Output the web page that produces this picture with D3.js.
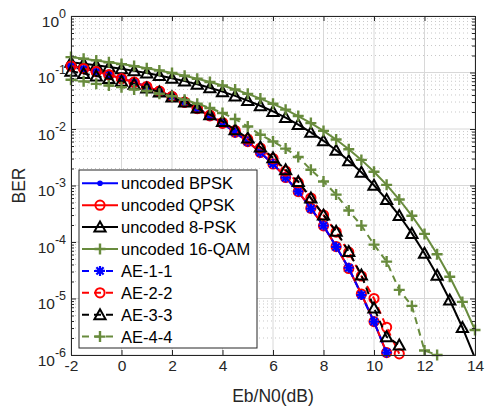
<!DOCTYPE html>
<html>
<head>
<meta charset="utf-8">
<script src="https://cdn.jsdelivr.net/npm/d3@7"></script>
<style>
  body { margin: 0; background: #fff; }
  svg { font-family: "Liberation Sans", Arial, sans-serif; }
</style>
</head>
<body>
<div id="chart"></div>
<script>
// Eb/N0 points (dB), shared by every curve
var snr = [-2, -1.5, -1, -0.5, 0, 0.5, 1, 1.5, 2, 2.5, 3, 3.5, 4, 4.5, 5, 5.5, 6, 6.5, 7, 7.5,
           8, 8.5, 9, 9.5, 10, 10.5, 11, 11.5, 12, 12.5, 13, 13.5, 14];

// BER, one value per snr point (curves stop where they run out)
var bpsk = [0.1306, 0.1170, 0.1038, 0.0909, 0.0786, 0.0671, 0.0563, 0.0464, 0.0375, 0.0297,
            0.0229, 0.0172, 0.0125, 0.00879, 0.00595, 0.00386, 0.00239, 0.00140, 7.73e-4, 3.99e-4,
            1.91e-4, 8.40e-5, 3.36e-5, 1.21e-5, 3.87e-6, 1.08e-6];
var qpsk = [0.1304, 0.1172, 0.1036, 0.0911, 0.0785, 0.0672, 0.0561, 0.0465, 0.0376, 0.0296,
            0.0230, 0.0171, 0.0126, 0.00875, 0.00598, 0.00384, 0.00241, 0.00139, 7.8e-4, 3.95e-4,
            1.93e-4, 8.3e-5, 3.4e-5, 1.2e-5, 3.9e-6, 1.1e-6];
var psk8 = [0.1522, 0.1434, 0.1345, 0.1254, 0.1162, 0.1069, 0.0977, 0.0884, 0.0793, 0.0704,
            0.0618, 0.0536, 0.0458, 0.0385, 0.0318, 0.0258, 0.0205, 0.0159, 0.01196, 0.00874,
            0.00618, 0.00421, 0.00275, 0.00171, 0.00101, 5.63e-4, 2.94e-4, 1.42e-4, 6.34e-5, 2.57e-5,
            9.4e-6, 3.07e-6, 8.8e-7];
var qam16 = [0.1873, 0.1754, 0.1637, 0.1522, 0.1409, 0.1299, 0.1190, 0.1083, 0.0978, 0.0875,
             0.0774, 0.0678, 0.0587, 0.0500, 0.0419, 0.0345, 0.0279, 0.0220, 0.01697, 0.01272,
             0.00925, 0.00650, 0.00439, 0.00284, 0.00175, 0.001026, 5.65e-4, 2.91e-4, 1.39e-4, 6.08e-5,
             2.42e-5, 8.7e-6, 2.77e-6];
var ae11 = [0.1310, 0.1165, 0.1040, 0.0905, 0.0790, 0.0668, 0.0565, 0.0460, 0.0378, 0.0295,
            0.0231, 0.0170, 0.0127, 0.0087, 0.0060, 0.0038, 0.00242, 0.00138, 7.9e-4, 3.9e-4,
            1.95e-4, 8.2e-5, 3.5e-5, 1.15e-5, 3.9e-6, 1.1e-6];
var ae22 = [0.1302, 0.1175, 0.1035, 0.0912, 0.0783, 0.0675, 0.0560, 0.0468, 0.0374, 0.0300,
            0.0233, 0.0176, 0.0130, 0.0094, 0.0066, 0.0046, 0.0030, 0.0018, 0.00112, 6.0e-4,
            3.0e-4, 1.5e-4, 6.6e-5, 2.5e-5, 1.0e-5, 3.1e-6, 1.05e-6];
var ae33 = [0.105, 0.096, 0.087, 0.078, 0.070, 0.062, 0.053, 0.045, 0.037, 0.030,
            0.0235, 0.0179, 0.0136, 0.0097, 0.0069, 0.0048, 0.0031, 0.0019, 0.00118, 6.0e-4,
            3.0e-4, 1.55e-4, 6.8e-5, 2.6e-5, 6.8e-6, 2.1e-6, 1.5e-6];
var ae44 = [0.0746, 0.0697, 0.063, 0.059, 0.055, 0.050, 0.047, 0.042, 0.038, 0.033,
            0.028, 0.0235, 0.0192, 0.0150, 0.0111, 0.0079, 0.0060, 0.0045, 0.0032, 0.0019,
            0.00118, 6.9e-4, 3.6e-4, 1.95e-4, 9.0e-5, 4.5e-5, 1.42e-5, 7.4e-6, 1.2e-6, 1.0e-6];

var legendNames = ["uncoded BPSK", "uncoded QPSK", "uncoded 8-PSK", "uncoded 16-QAM",
                   "AE-1-1", "AE-2-2", "AE-3-3", "AE-4-4"];

var xTickValues = [-2, 0, 2, 4, 6, 8, 10, 12, 14];
var yTickExps = [0, -1, -2, -3, -4, -5, -6];

var green = "#688b3d";
var series = [
  {name: legendNames[0], values: bpsk,  color: "blue",    dash: null,  marker: "dot"},
  {name: legendNames[1], values: qpsk,  color: "red",     dash: null,  marker: "circle"},
  {name: legendNames[2], values: psk8,  color: "black",   dash: null,  marker: "tri"},
  {name: legendNames[3], values: qam16, color: green,     dash: null,  marker: "plus"},
  {name: legendNames[4], values: ae11,  color: "blue",    dash: "7,5", marker: "star"},
  {name: legendNames[5], values: ae22,  color: "red",     dash: "7,5", marker: "circle"},
  {name: legendNames[6], values: ae33,  color: "black",   dash: "7,5", marker: "tri"},
  {name: legendNames[7], values: ae44,  color: green,     dash: "7,5", marker: "plus"}
];

var margin = {top: 16, right: 10, bottom: 52, left: 71},
    width = 485 - margin.left - margin.right,
    height = 407 - margin.top - margin.bottom;

var axisColor = "#262626";

var svg = d3.select("#chart").append("svg")
    .attr("width", 485)
    .attr("height", 407)
  .append("g")
    .attr("transform", "translate(" + margin.left + "," + margin.top + ")");

var x = d3.scaleLinear().domain([-2, 14]).range([0, width]);
var y = d3.scaleLog().domain([1e-6, 1]).range([height, 0]);

svg.append("defs").append("clipPath").attr("id", "clip")
  .append("rect").attr("width", width).attr("height", height);

// grid: minor (dotted) then major
var minorY = [];
for (var e = -6; e < 0; e++) {
  for (var m = 2; m <= 9; m++) minorY.push(m * Math.pow(10, e));
}
var grid = svg.append("g");
grid.selectAll(".minor").data(minorY).enter().append("line")
    .attr("x1", 0).attr("x2", width)
    .attr("y1", d => y(d)).attr("y2", d => y(d))
    .attr("stroke", "#c8c8c8").attr("stroke-width", 1)
    .attr("stroke-dasharray", "1,3");
grid.selectAll(".majy").data(yTickExps).enter().append("line")
    .attr("x1", 0).attr("x2", width)
    .attr("y1", d => y(Math.pow(10, d))).attr("y2", d => y(Math.pow(10, d)))
    .attr("stroke", "#d8d8d8").attr("stroke-width", 1);
grid.selectAll(".majx").data(xTickValues).enter().append("line")
    .attr("y1", 0).attr("y2", height)
    .attr("x1", d => x(d)).attr("x2", d => x(d))
    .attr("stroke", "#d8d8d8").attr("stroke-width", 1);

// marker shapes
function drawMarker(g, type, color) {
  if (type === "dot") {
    g.append("circle").attr("r", 2.8).attr("fill", color);
  } else if (type === "circle") {
    g.append("circle").attr("r", 4.6).attr("fill", "none")
      .attr("stroke", color).attr("stroke-width", 2);
  } else if (type === "tri") {
    g.append("path").attr("d", "M0,-5.5L5.6,4.5L-5.6,4.5Z").attr("fill", "none")
      .attr("stroke", color).attr("stroke-width", 2).attr("stroke-linejoin", "miter");
  } else if (type === "plus") {
    g.append("path").attr("d", "M-5.5,0H5.5M0,-5.5V5.5")
      .attr("stroke", color).attr("stroke-width", 2.4);
  } else if (type === "star") {
    g.append("path").attr("d", "M-5,0H5M0,-5V5M-3.6,-3.6L3.6,3.6M-3.6,3.6L3.6,-3.6")
      .attr("stroke", color).attr("stroke-width", 2.2);
  }
}

var line = d3.line()
    .x(d => x(d.snr))
    .y(d => y(d.ber));

var plot = svg.append("g");
series.forEach(function (s) {
  var pts = s.values.map((v, i) => ({snr: snr[i], ber: v}));
  plot.append("path")
      .datum(pts)
      .attr("clip-path", "url(#clip)")
      .attr("fill", "none")
      .attr("stroke", s.color)
      .attr("stroke-width", 2)
      .attr("stroke-dasharray", s.dash)
      .attr("d", line);
  pts.filter(d => d.ber >= 0.98e-6).forEach(function (d) {
    var g = plot.append("g").attr("transform", "translate(" + x(d.snr) + "," + y(d.ber) + ")");
    drawMarker(g, s.marker, s.color);
  });
});

// axes (ticks inward, box on)
svg.append("g")
    .attr("transform", "translate(0," + height + ")")
    .call(d3.axisBottom(x).tickValues(xTickValues).tickSize(-5).tickPadding(5).tickFormat(d => String(d)))
    .call(g => g.selectAll("text").style("font-size", "15.5px").attr("fill", axisColor))
    .call(g => g.selectAll("line,path").attr("stroke", axisColor));
svg.append("g")
    .call(d3.axisTop(x).tickValues(xTickValues).tickSize(-5).tickFormat(""))
    .call(g => g.selectAll("line,path").attr("stroke", axisColor));

var yMajor = yTickExps.map(d => Math.pow(10, d));
svg.append("g")
    .call(d3.axisLeft(y).tickValues(yMajor).tickSize(-5).tickFormat(""))
    .call(g => g.selectAll("line,path").attr("stroke", axisColor));
svg.append("g")
    .call(d3.axisLeft(y).tickValues(minorY).tickSize(-3).tickFormat(""))
    .call(g => g.select(".domain").remove())
    .call(g => g.selectAll("line").attr("stroke", axisColor));
svg.append("g")
    .attr("transform", "translate(" + width + ",0)")
    .call(d3.axisRight(y).tickValues(yMajor).tickSize(-5).tickFormat(""))
    .call(g => g.selectAll("line,path").attr("stroke", axisColor));
svg.append("g")
    .attr("transform", "translate(" + width + ",0)")
    .call(d3.axisRight(y).tickValues(minorY).tickSize(-3).tickFormat(""))
    .call(g => g.select(".domain").remove())
    .call(g => g.selectAll("line").attr("stroke", axisColor));

// y tick labels 10^k
var ylab = svg.append("g").selectAll("text").data(yTickExps).enter().append("text")
    .attr("x", -5)
    .attr("y", d => y(Math.pow(10, d)) + 10.5)
    .attr("text-anchor", "end")
    .attr("fill", axisColor)
    .style("font-size", "15.5px");
ylab.append("tspan").text("10");
ylab.append("tspan").attr("dy", -9).style("font-size", "12.5px").text(d => String(d));

// axis titles
svg.append("text")
    .attr("x", width / 2)
    .attr("y", 386)
    .attr("text-anchor", "middle")
    .attr("fill", axisColor)
    .style("font-size", "17.5px")
    .text("Eb/N0(dB)");
svg.append("text")
    .attr("transform", "rotate(-90)")
    .attr("x", -(height / 2))
    .attr("y", -46)
    .attr("text-anchor", "middle")
    .attr("fill", axisColor)
    .style("font-size", "17.5px")
    .text("BER");

// legend
var legend = svg.append("g").attr("transform", "translate(8,154)");
legend.append("rect")
    .attr("width", 178).attr("height", 178)
    .attr("fill", "#fff").attr("stroke", axisColor).attr("stroke-width", 1);
series.forEach(function (s, i) {
  var row = legend.append("g").attr("transform", "translate(0," + (13.3 + i * 21.9) + ")");
  row.append("line")
      .attr("x1", 3).attr("x2", 39)
      .attr("stroke", s.color).attr("stroke-width", 2)
      .attr("stroke-dasharray", s.dash);
  drawMarker(row.append("g").attr("transform", "translate(21,0)"), s.marker, s.color);
  row.append("text")
      .attr("x", 42).attr("y", 6)
      .attr("fill", "#000")
      .style("font-size", "16.5px")
      .text(s.name);
});
</script>
</body>
</html>
